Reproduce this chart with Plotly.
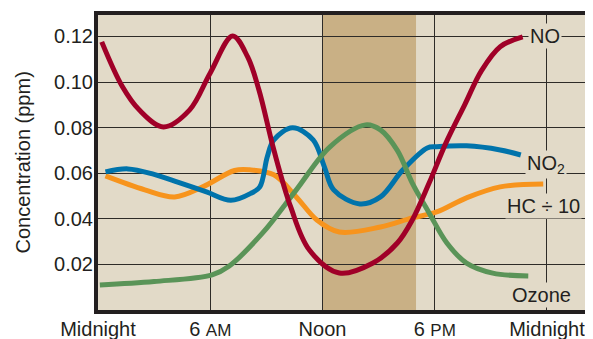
import plotly.graph_objects as go

# ---- data (hours since midnight, concentration in ppm) ----
no_h = [0.2, 1.3, 2.2, 3.5, 4.9, 6.0, 7.2, 8.0, 8.6, 9.4, 10.3, 11.3, 12.9, 14.7, 16.0, 16.8, 17.7, 18.6, 19.6, 20.5, 21.5, 22.7]
no_v = [0.1176, 0.098, 0.0878, 0.0803, 0.0878, 0.104, 0.1202, 0.111, 0.0966, 0.0702, 0.0452, 0.0263, 0.0162, 0.0206, 0.0294, 0.0395, 0.0557, 0.0733, 0.0900, 0.1050, 0.1155, 0.1198]

no2_h = [0.4, 1.6, 3.0, 4.3, 5.8, 7.1, 8.2, 8.65, 9.05, 9.4, 10.4, 11.5, 12.1, 12.6, 14.0, 15.1, 16.3, 17.6, 18.1, 19.7, 21.5, 22.6]
no2_v = [0.0606, 0.0619, 0.0595, 0.0560, 0.0518, 0.0481, 0.0513, 0.0540, 0.0672, 0.0746, 0.0799, 0.0746, 0.0628, 0.0527, 0.0465, 0.0496, 0.0615, 0.0711, 0.0716, 0.0720, 0.0702, 0.0680]

hc_h = [0.4, 2.5, 4.1, 5.6, 7.3, 8.1, 9.4, 10.6, 11.7, 12.9, 15.1, 16.8, 18.1, 19.7, 21.5, 23.8]
hc_v = [0.0588, 0.0527, 0.0496, 0.0540, 0.0612, 0.0615, 0.0593, 0.0496, 0.0395, 0.0342, 0.0364, 0.0404, 0.0430, 0.0492, 0.0540, 0.0553]

oz_h = [0.1, 3.0, 6.1, 7.0, 8.8, 10.6, 12.4, 14.3, 15.1, 16.0, 16.8, 17.7, 18.65, 19.7, 21.1, 23.0]
oz_v = [0.0110, 0.0125, 0.0154, 0.0192, 0.0338, 0.0527, 0.0716, 0.0812, 0.0790, 0.0700, 0.0557, 0.0426, 0.0294, 0.0206, 0.0162, 0.0149]

x_tickvals = [0, 6, 12, 18, 24]
x_ticktext = ["Midnight", "6 <span style='font-size:17px'>AM</span>", "Noon",
              "6 <span style='font-size:17px'>PM</span>", "Midnight"]
y_tickvals = [0.02, 0.04, 0.06, 0.08, 0.10, 0.12]
y_ticktext = ["0.02", "0.04", "0.06", "0.08", "0.10", "0.12"]

band_start, band_end = 12, 17

series_labels = [
    ("NO", 23.9, 0.1202),
    ("NO<sub>2</sub>", 23.95, 0.0640),
    ("HC ÷ 10", 23.84, 0.0457),
    ("Ozone", 23.73, 0.0066),
]

FONT = "Liberation Sans, Arial, Helvetica, sans-serif"
BG = "#e2dac8"
BAND = "#c9b085"
DARK = "#231f20"

fig = go.Figure()
lw = 5
fig.add_trace(go.Scatter(x=hc_h, y=hc_v, mode="lines", line=dict(color="#f7941d", width=lw, shape="spline", smoothing=1)))
fig.add_trace(go.Scatter(x=no2_h, y=no2_v, mode="lines", line=dict(color="#0073ab", width=lw, shape="spline", smoothing=1)))
fig.add_trace(go.Scatter(x=oz_h, y=oz_v, mode="lines", line=dict(color="#5a9458", width=lw, shape="spline", smoothing=1)))
fig.add_trace(go.Scatter(x=no_h, y=no_v, mode="lines", line=dict(color="#a00028", width=lw, shape="spline", smoothing=1)))

fig.add_shape(type="rect", xref="x", yref="paper", x0=band_start, x1=band_end, y0=0, y1=1,
              fillcolor=BAND, line=dict(width=0), layer="between")

for txt, hx, vy in series_labels:
    fig.add_annotation(x=hx, y=vy, xref="x", yref="y", text=txt, showarrow=False,
                       xanchor="center", yanchor="middle", bgcolor=BG, borderpad=1,
                       font=dict(family=FONT, size=20, color=DARK))

fig.add_annotation(xref="paper", yref="paper", x=-0.1535, y=0.50, text="Concentration (ppm)",
                   textangle=-90, showarrow=False, xanchor="center", yanchor="middle",
                   font=dict(family=FONT, size=20, color=DARK))

# page body has an 8px default margin, so the figure is sized to end at the window edge
fig.update_layout(
    width=585, height=331,
    margin=dict(l=90, r=0, t=7, b=29, autoexpand=False),
    paper_bgcolor="white", plot_bgcolor=BG,
    showlegend=False, hovermode=False,
    font=dict(family=FONT, size=20, color=DARK),
)
fig.update_xaxes(range=[0, 26.46], tickvals=x_tickvals, ticktext=x_ticktext,
                 showgrid=True, gridcolor="#2e2b28", gridwidth=1.3,
                 showline=True, linecolor=DARK, linewidth=4, mirror=True,
                 zeroline=False, ticks="", tickfont=dict(size=20), ticklabelstandoff=-2,
                 automargin=False)
fig.update_yaxes(range=[0, 0.1294], tickvals=y_tickvals, ticktext=y_ticktext,
                 showgrid=True, gridcolor="#2e2b28", gridwidth=1.3,
                 showline=True, linecolor=DARK, linewidth=4, mirror=False,
                 zeroline=False, ticks="", tickfont=dict(size=20), ticklabelstandoff=-3,
                 automargin=False)

fig.write_html("out.html")
